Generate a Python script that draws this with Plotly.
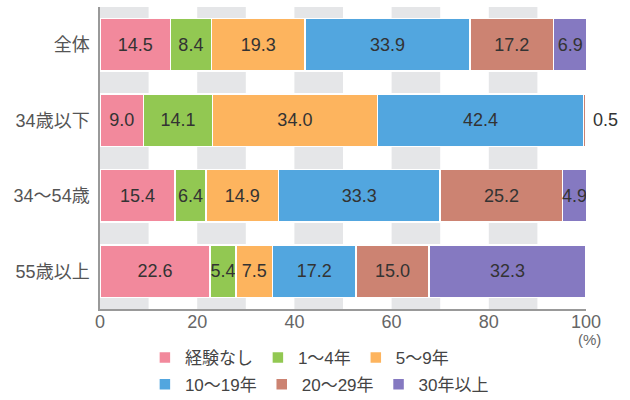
import plotly.graph_objects as go

categories = ["全体", "34歳以下", "34～54歳", "55歳以上"]
series_names = ["経験なし", "1～4年", "5～9年", "10～19年", "20～29年", "30年以上"]
v_none = [14.5, 9.0, 15.4, 22.6]
v_1_4 = [8.4, 14.1, 6.4, 5.4]
v_5_9 = [19.3, 34.0, 14.9, 7.5]
v_10_19 = [33.9, 42.4, 33.3, 17.2]
v_20_29 = [17.2, 0.5, 25.2, 15.0]
v_30 = [6.9, 0.0, 4.9, 32.3]
series_values = [v_none, v_1_4, v_5_9, v_10_19, v_20_29, v_30]
colors = ["#F2899C", "#92C852", "#FDB45E", "#52A6DF", "#CC8372", "#8579C1"]
tick_vals = [0, 20, 40, 60, 80, 100]
tick_text = ["0", "20", "40", "60", "80", "100"]
unit_label = "(%)"
band_starts = [0, 20, 40, 60, 80]

FONT = "Liberation Sans, Noto Sans CJK JP, sans-serif"

fig = go.Figure()
for i, (name, vals, col) in enumerate(zip(series_names, series_values, colors)):
    texts = [f"{v:.1f}" if v >= 1 else "" for v in vals]
    fig.add_trace(go.Bar(
        y=categories, x=vals, name=name, orientation="h",
        marker=dict(color=col, line=dict(color="white", width=1.5)),
        text=texts, textposition="inside", insidetextanchor="middle",
        constraintext="none", textangle=0,
        textfont=dict(family=FONT, size=18, color="#333333"),
        hoverinfo="skip",
        legend="legend" if i < 3 else "legend2",
    ))

# small values shown outside the bar end
for ci, cat in enumerate(categories):
    for si, vals in enumerate(series_values):
        v = vals[ci]
        if 0 < v < 1:
            end = sum(series_values[k][ci] for k in range(si + 1))
            fig.add_annotation(x=end, y=cat, text=f"{v:.1f}", showarrow=False,
                               xanchor="left", xshift=5,
                               font=dict(family=FONT, size=18, color="#333333"))

fig.add_annotation(x=tick_vals[-1], y=0, xref="x", yref="paper", text=unit_label,
                   showarrow=False, xanchor="center", yanchor="middle", yshift=-30,
                   xshift=3, font=dict(family=FONT, size=15, color="#666666"))

for s in band_starts:
    fig.add_shape(type="rect", xref="x", yref="paper", x0=s, x1=s + 10, y0=0, y1=1,
                  fillcolor="#E5E6E8", line=dict(width=0), layer="below")

fig.update_layout(
    width=630, height=400,
    margin=dict(l=100, r=44, t=7, b=91),
    barmode="stack", bargap=0.3,
    plot_bgcolor="white", paper_bgcolor="white",
    font=dict(family=FONT, size=18, color="#555555"),
    xaxis=dict(range=[0, 100], tickvals=tick_vals, ticktext=tick_text, automargin=False,
               showgrid=False, zeroline=False, showline=True, linecolor="#999999",
               linewidth=1.5, ticks="", ticklabelstandoff=-4,
               tickfont=dict(size=18, color="#666666")),
    yaxis=dict(autorange="reversed", showgrid=False, zeroline=False, showline=True,
               automargin=False,
               linecolor="#999999", linewidth=1.5, ticks="", ticklabelstandoff=5,
               tickfont=dict(size=18, color="#555555")),
    legend=dict(orientation="h", xref="container", yref="container",
                x=0.23, y=0.15, xanchor="left", yanchor="top",
                font=dict(size=17, color="#444444"), itemwidth=30,
                traceorder="normal", bgcolor="rgba(0,0,0,0)"),
    legend2=dict(orientation="h", xref="container", yref="container",
                 x=0.23, y=0.083, xanchor="left", yanchor="top",
                 font=dict(size=17, color="#444444"), itemwidth=30,
                 traceorder="normal", bgcolor="rgba(0,0,0,0)"),
)

fig.write_html("out.html")
